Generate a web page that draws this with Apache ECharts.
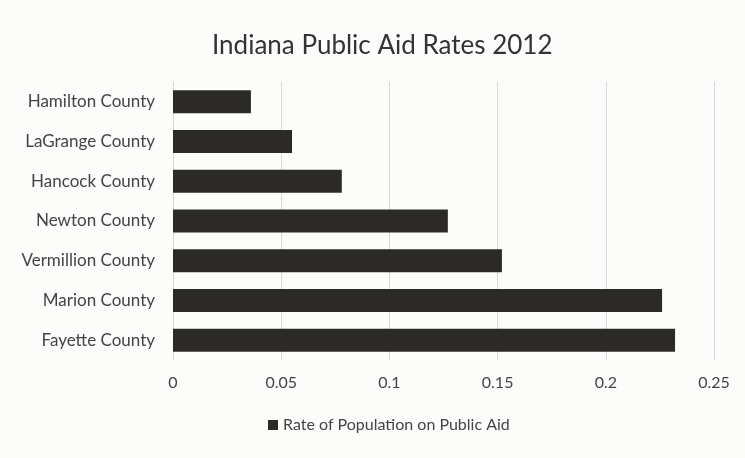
<!DOCTYPE html>
<html>
<head>
<meta charset="utf-8">
<script src="https://cdn.jsdelivr.net/npm/echarts@6/dist/echarts.min.js"></script>
<style>
  html, body { margin: 0; padding: 0; background: #fcfcfb; }
  #chart { width: 745px; height: 458px; }
</style>
</head>
<body>
<div id="chart"></div>
<script>
// counties, top to bottom as drawn
const counties = ['Hamilton County', 'LaGrange County', 'Hancock County', 'Newton County',
                  'Vermillion County', 'Marion County', 'Fayette County'];
const aidRates = [0.036, 0.055, 0.078, 0.127, 0.152, 0.226, 0.232];
const seriesName = 'Rate of Population on Public Aid';

const chart = echarts.init(document.getElementById('chart'));
chart.setOption({
    backgroundColor: '#fcfcfb',
    textStyle: { fontFamily: 'Lato, "Open Sans", sans-serif' },
    title: {
        text: 'Indiana Public Aid Rates 2012',
        left: 207,
        top: 28,
        textStyle: { fontSize: 26, fontWeight: 'normal', color: '#333', fontFamily: 'Lato, sans-serif' }
    },
    legend: {
        bottom: 20,
        left: 263,
        itemWidth: 10,
        itemHeight: 10,
        itemGap: 4,
        icon: 'rect',
        textStyle: { fontSize: 16, color: '#444' },
        data: [seriesName]
    },
    grid: { left: 173, right: 31, top: 82, bottom: 98 },
    xAxis: {
        type: 'value',
        min: 0,
        max: 0.25,
        interval: 0.05,
        axisLine: { show: false },
        axisTick: { show: false },
        axisLabel: { fontSize: 16, color: '#444', margin: 15 },
        splitLine: { lineStyle: { color: '#d8d8d8' } }
    },
    yAxis: {
        type: 'category',
        inverse: true,
        data: counties,
        axisLine: { show: false },
        axisTick: { show: false },
        axisLabel: { fontSize: 17, color: '#444', margin: 18 }
    },
    series: [{
        name: seriesName,
        type: 'bar',
        data: aidRates,
        barWidth: '58%',
        itemStyle: { color: '#2b2a26' }
    }]
});
</script>
</body>
</html>
